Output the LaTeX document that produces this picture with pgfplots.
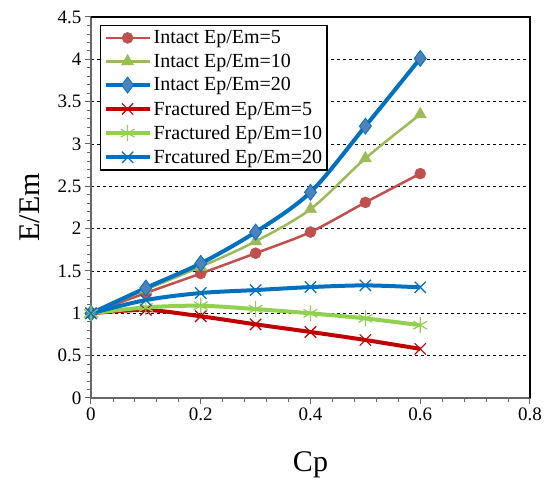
\documentclass[border=0pt]{standalone}
\usepackage{pgfplots}
\pgfplotsset{compat=1.18}
\usepackage{fontspec}
\setmainfont{Liberation Serif}
\definecolor{iRed}{RGB}{192,80,77}
\definecolor{iGreen}{RGB}{155,187,89}
\definecolor{iBlue}{RGB}{0,112,192}
\definecolor{iDia}{RGB}{79,129,189}
\definecolor{fRed}{RGB}{192,0,0}
\definecolor{fGreen}{RGB}{146,208,80}
\definecolor{fBlue}{RGB}{0,112,192}
\begin{document}
\begin{tikzpicture}
\begin{axis}[
  at={(0,0)}, anchor=south west,
  scale only axis, width=439pt, height=381pt,
  xmin=0, xmax=0.8, ymin=0, ymax=4.5,
  xtick={0,0.2,0.4,0.6,0.8},
  ytick={0,0.5,1,1.5,2,2.5,3,3.5,4,4.5},
  minor x tick num=4, minor y tick num=4,
  yticklabels={0,0.5,1,1.5,2,2.5,3,3.5,4,4.5},
  xticklabels={0,0.2,0.4,0.6,0.8},
  /pgf/number format/assume math mode=true,
  tick label style={font=\fontsize{19}{21}\selectfont},
  ymajorgrids, major grid style={black, dashed, line width=0.8pt},
  major tick length=6pt, minor tick length=4pt,
  tick style={gray!80!black, line width=1pt},
  xtick pos=bottom, ytick pos=left,
  xtick align=outside, ytick align=outside,
  minor tick style={gray!80!black, line width=0.8pt},
  axis line style={gray!80!black, line width=2.5pt},
  xlabel={Cp}, ylabel={E/Em},
  label style={font=\fontsize{30}{34}\selectfont},
  xlabel style={at={(axis description cs:0.5,0)}, yshift=-50pt, anchor=north},
  ylabel style={at={(axis description cs:0,0.5)}, anchor=south, yshift=48pt},
  legend style={at={(9pt,373pt)}, anchor=north west, draw=black, line width=1.2pt,
    font=\fontsize{20}{22}\selectfont, row sep=4.8pt, inner sep=3pt},
  legend cell align=left,
  legend image code/.code={
    \draw[#1] (0pt,0pt) -- (22pt,0pt) -- (44pt,0pt);
    \draw[#1, only marks] plot coordinates {(22pt,0pt)};
  },
  clip=false,
]
\addplot[smooth, iRed, line width=2.5pt, mark=*, mark size=5.5pt, mark options={fill=iRed, draw=iRed, line width=0.5pt}]
  coordinates {(0,1) (0.1,1.24) (0.2,1.47) (0.3,1.71) (0.4,1.96) (0.5,2.31) (0.6,2.65)};
\addlegendentry{Intact Ep/Em=5}
\addplot[smooth, iGreen, line width=2.5pt, mark=triangle*, mark size=7pt, mark options={fill=iGreen, draw=iGreen, line width=0.5pt}]
  coordinates {(0,1) (0.1,1.28) (0.2,1.55) (0.3,1.85) (0.4,2.23) (0.5,2.83) (0.6,3.35)};
\addlegendentry{Intact Ep/Em=10}
\addplot[smooth, iBlue, line width=4pt, mark=diamond*, mark size=8pt, mark options={fill=iDia, draw=iBlue, line width=0.8pt}]
  coordinates {(0,1) (0.1,1.30) (0.2,1.59) (0.3,1.96) (0.4,2.43) (0.5,3.21) (0.6,4.01)};
\addlegendentry{Intact Ep/Em=20}
\addplot[smooth, fRed, line width=4pt, mark=x, mark size=8pt, mark options={draw=fRed, line width=1.2pt}]
  coordinates {(0,1) (0.1,1.04) (0.2,0.965) (0.3,0.87) (0.4,0.78) (0.5,0.685) (0.6,0.58)};
\addlegendentry{Fractured Ep/Em=5}
\addplot[smooth, fGreen, line width=4pt, mark=asterisk, mark size=8pt, mark options={draw=fGreen, line width=1.2pt}]
  coordinates {(0,1) (0.1,1.07) (0.2,1.09) (0.3,1.05) (0.4,1.0) (0.5,0.94) (0.6,0.86)};
\addlegendentry{Fractured Ep/Em=10}
\addplot[smooth, fBlue, line width=4pt, mark=x, mark size=8pt, mark options={draw=fBlue, line width=1.2pt}]
  coordinates {(0,1) (0.1,1.157) (0.2,1.24) (0.3,1.275) (0.4,1.31) (0.5,1.33) (0.6,1.307)};
\addlegendentry{Frcatured Ep/Em=20}
\draw[black, line width=2.5pt] (rel axis cs:0,1) -- (rel axis cs:1,1) -- (rel axis cs:1,0);
\end{axis}
\pgfresetboundingbox
\path (-91pt,-86pt) rectangle (453pt,398pt);
\end{tikzpicture}
\end{document}
